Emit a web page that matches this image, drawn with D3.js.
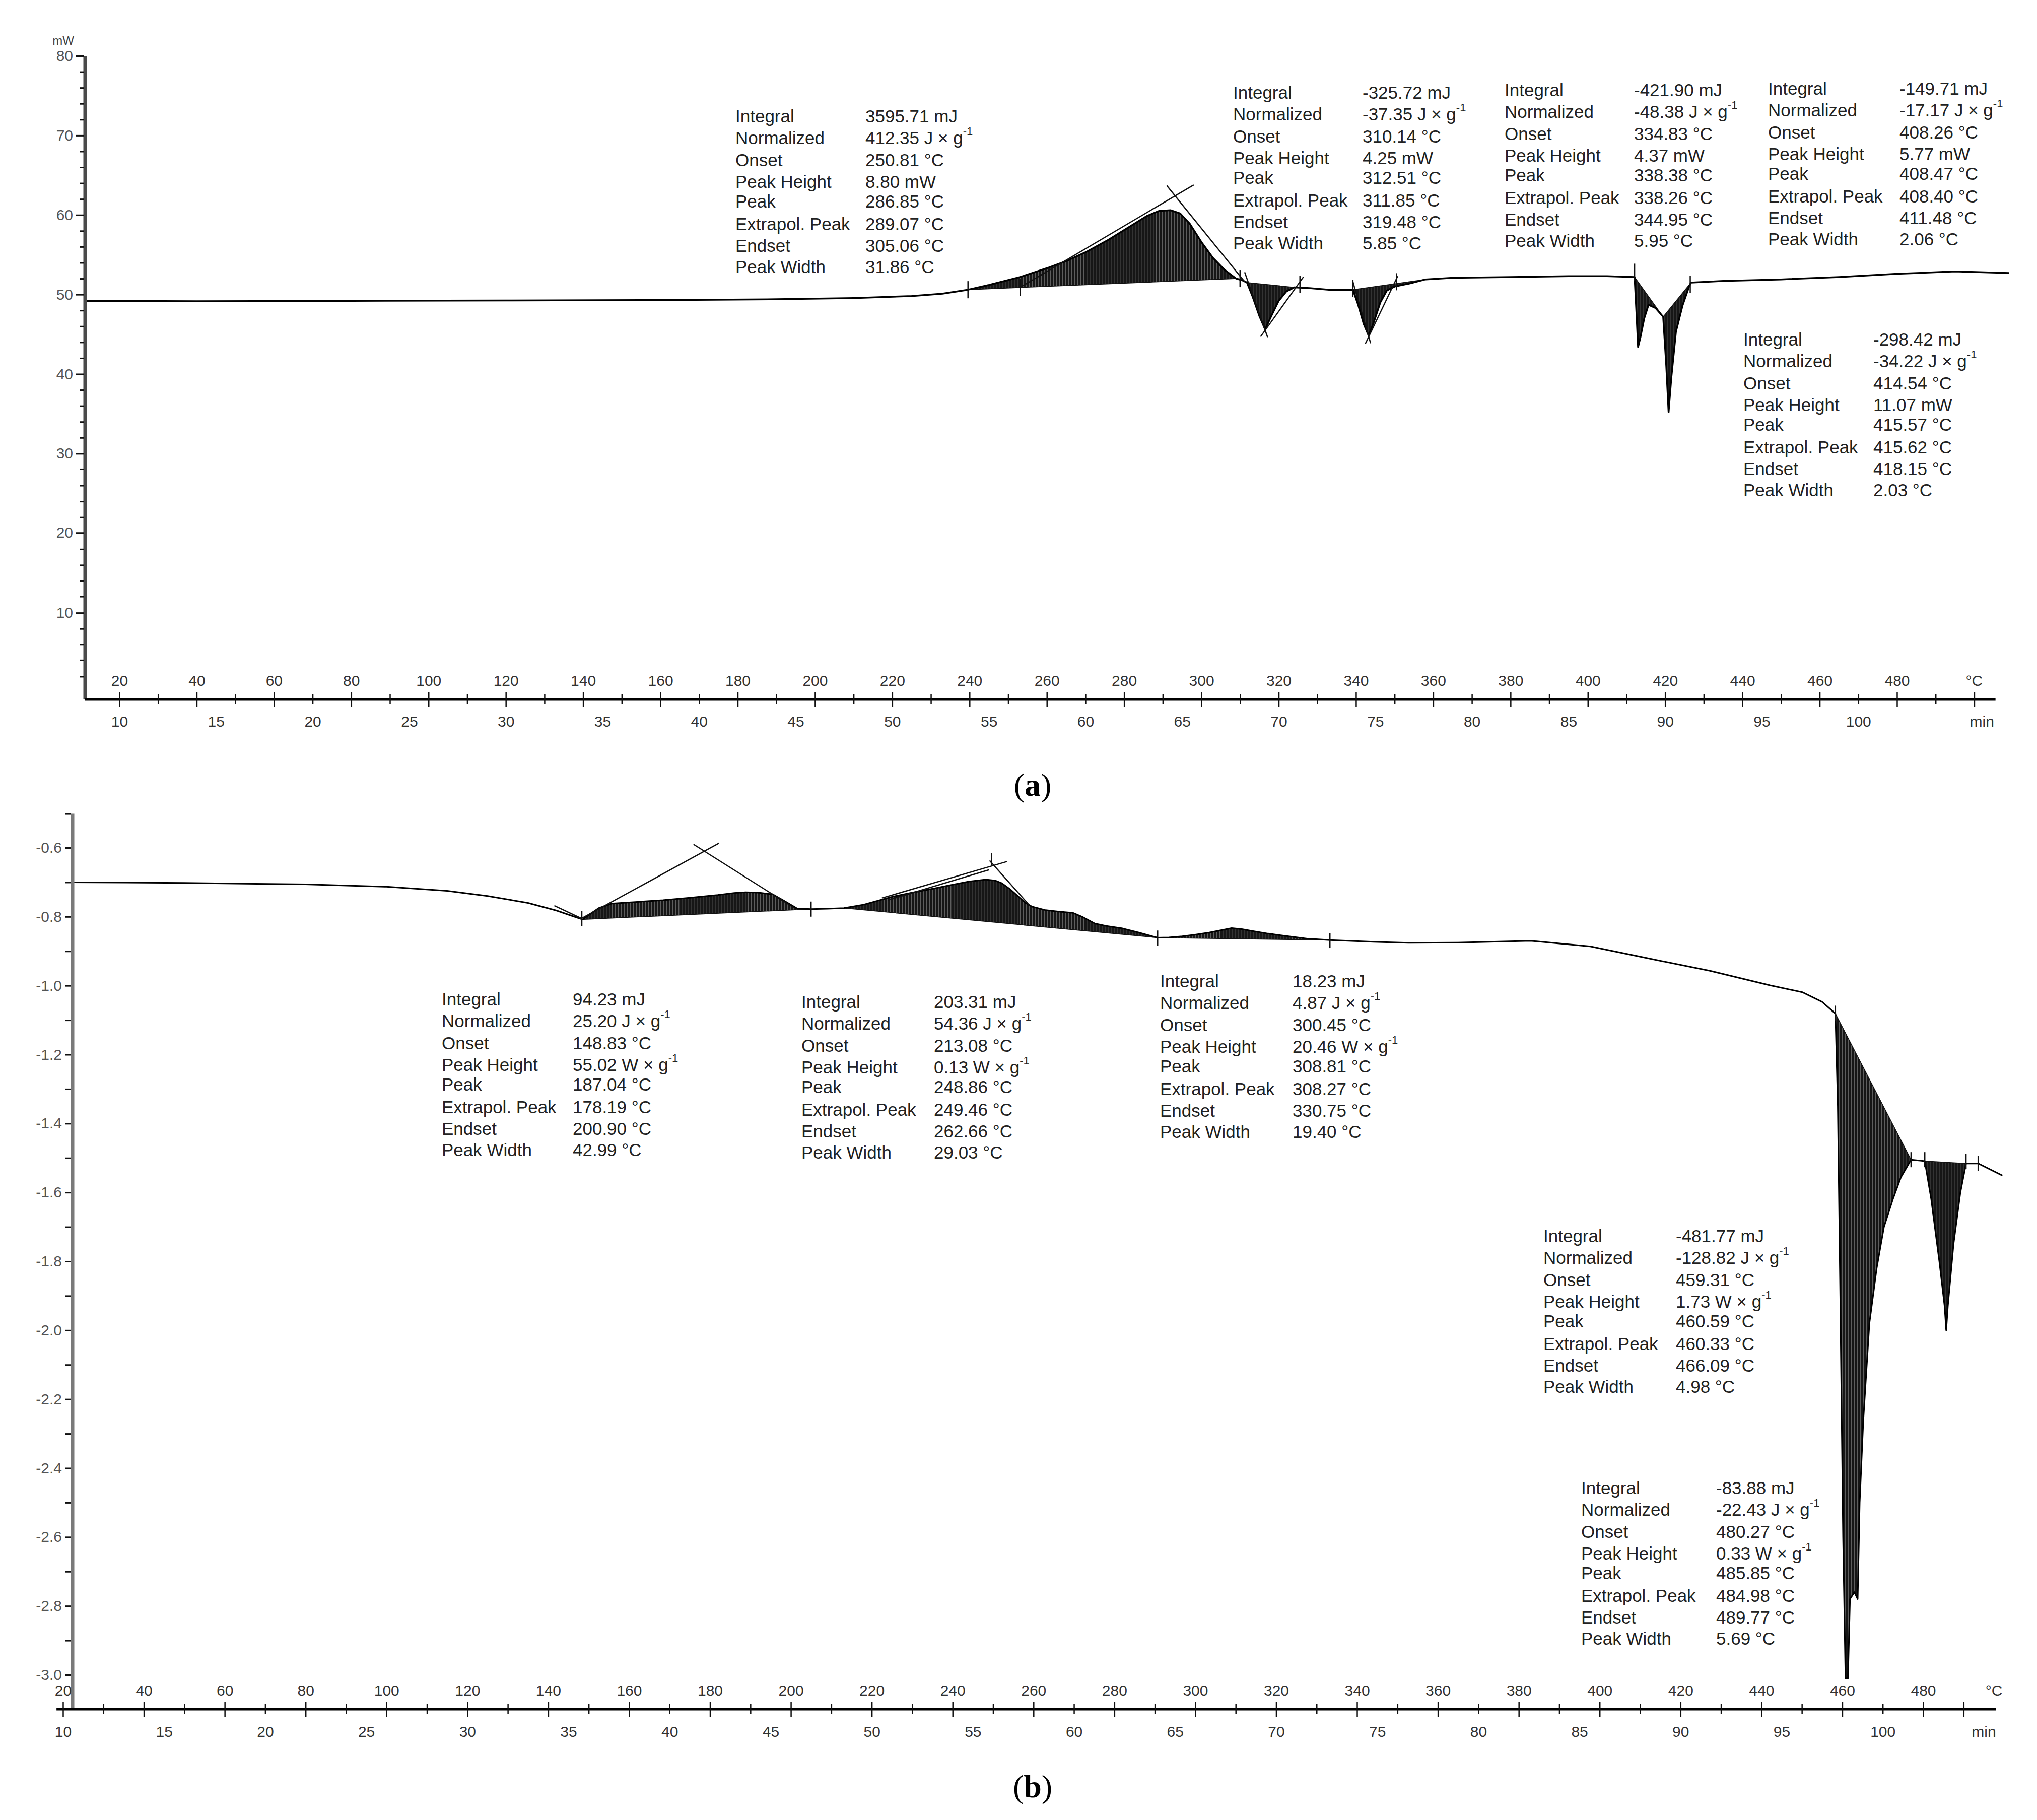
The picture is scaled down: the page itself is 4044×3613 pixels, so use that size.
<!DOCTYPE html>
<html lang="en">
<head>
<meta charset="UTF-8">
<title>DSC curves (a) and (b)</title>
<script src="https://cdn.jsdelivr.net/npm/d3@7"></script>
<style>
  html, body { margin: 0; background: #fff; }
  svg { display: block; }
</style>
</head>
<body>
<div id="chart"></div>
<script>
// ---- data: panel (a), heat flow in mW against temperature in °C ----
const curveA = [
  [11, 49.2], [40, 49.15], [80, 49.2], [120, 49.25], [160, 49.3], [190, 49.4], [210, 49.55], [225, 49.8], [233, 50.1], [239.6, 50.6],
  [245, 51.2], [253.1, 52.2], [260, 53.3], [265, 54.2], [270, 55.3], [276, 56.9], [282, 58.7], [286, 59.9], [289, 60.5], [292, 60.6],
  [294.5, 60.2], [297, 58.9], [300, 56.6], [303, 54.6], [306, 53.1], [309, 52.0], [310.5, 51.8],
  [311.8, 51.5], [313.2, 49.8], [315, 47.3], [316.5, 45.6], [318, 47.2], [320, 49.2], [322, 50.4], [324.1, 50.9],
  [328, 50.8], [333, 50.6], [339.2, 50.6],
  [340.5, 48.8], [342, 46.3], [343.3, 44.8], [344.6, 46.5], [346.3, 49.0], [348, 50.5], [350, 51.0], [354, 51.4], [358, 51.9],
  [365, 52.1], [380, 52.2], [395, 52.3], [405, 52.3], [412.1, 52.2],
  [412.6, 47.5], [413.0, 43.4], [413.6, 44.6], [414.6, 47.0], [415.7, 48.7], [417.5, 48.3], [419.5, 47.2],
  [420.3, 41.0], [420.9, 35.2], [421.6, 39.5], [422.8, 45.3], [424.5, 48.6], [426.2, 51.0], [426.7, 51.5],
  [435, 51.7], [450, 51.9], [465, 52.2], [480, 52.6], [495, 52.9], [509, 52.7]
];
// integration ranges (start, end temperature) that are shaded
const peaksA = [[239.6, 309], [311.8, 324.1], [339.2, 358], [412.1, 419.5], [419.5, 426.7]];
// tangent lines: [start point, extrapolated peak]
const tangentsA = [
  [[253.1, 50.9], [293.2, 62.4]], [[311.2, 51.6], [293.2, 62.4]],
  [[311.2, 52.8], [316.5, 45.5]], [[326.4, 52.2], [316.5, 45.5]],
  [[339.2, 51.6], [343.3, 44.7]], [[350.8, 52.3], [343.3, 44.7]]
];
const limitsA = [[239.6, 50.6], [253.1, 50.9], [310, 52.0], [325.5, 51.3], [339.2, 50.8], [350.5, 51.6], [412.1, 52.8], [426.5, 51.3]];

// ---- data: panel (b), normalised heat flow against temperature in °C ----
const curveB = [
  [22.4, -0.700], [50, -0.702], [80, -0.706], [100, -0.713], [115, -0.725], [125, -0.740], [135, -0.760], [142, -0.782], [146, -0.798], [148.5, -0.808],
  [150, -0.795], [152.5, -0.775], [155.7, -0.762], [162, -0.757], [168.4, -0.752], [175, -0.745], [181.9, -0.737], [186, -0.731], [188.8, -0.729],
  [192, -0.730], [195.5, -0.735], [198.5, -0.755], [201.5, -0.776], [205, -0.778], [209, -0.777], [213.1, -0.775],
  [218, -0.765], [225.1, -0.742], [230, -0.730], [235.9, -0.717], [240, -0.707], [244, -0.698], [248.2, -0.692], [250.5, -0.695], [252.2, -0.703],
  [254.2, -0.720], [256.3, -0.742], [258, -0.760], [259.7, -0.771], [263, -0.781], [266, -0.785], [269.8, -0.789], [272, -0.800], [275.2, -0.820],
  [278, -0.827], [282, -0.834], [286, -0.846], [290.7, -0.861],
  [293.5, -0.860], [296.8, -0.857], [300, -0.852], [303.5, -0.846], [306.5, -0.839], [309, -0.833], [311.5, -0.836], [314.3, -0.842], [318, -0.849],
  [321.1, -0.854], [324.5, -0.859], [327.9, -0.864], [333.3, -0.868],
  [344.1, -0.873], [353.3, -0.876], [365, -0.875], [382.9, -0.870], [397.7, -0.886], [412.5, -0.922], [427.3, -0.957], [442.1, -0.999],
  [450.1, -1.019], [455, -1.047], [458.3, -1.081],
  [458.9, -1.35], [459.5, -1.9], [460.2, -2.6], [460.8, -3.01], [461.4, -3.01], [461.9, -2.78], [463.0, -2.76], [463.8, -2.78], [464.3, -2.5],
  [465.2, -2.26], [466.7, -1.98], [468.5, -1.82], [470.3, -1.70], [472.5, -1.62], [474.5, -1.556], [477.0, -1.505],
  [480.4, -1.509], [482, -1.62], [484, -1.80], [485.3, -1.93], [485.7, -2.00], [486.1, -1.93], [487.5, -1.75], [489.2, -1.60], [490.6, -1.516],
  [493.6, -1.516], [499.6, -1.551]
];
const peaksB = [[148.5, 205], [213.1, 290.7], [290.7, 333.3], [458.3, 477.0], [480.4, 490.6]];
const tangentsB = [
  [[148.2, -0.805], [178.6, -0.610]], [[200.9, -0.775], [178.6, -0.610]],
  [[222.5, -0.746], [250.2, -0.651]], [[259.0, -0.767], [250.2, -0.651]]
];
const extraLinesB = [[[141.5, -0.768], [148.2, -0.805]], [[224.0, -0.752], [249.0, -0.664]], [[249.6, -0.651], [249.6, -0.615]]];
const limitsB = [[148.3, -0.805], [205, -0.778], [290.7, -0.862], [333.3, -0.869], [458.3, -1.08], [477, -1.505], [480.4, -1.505], [490.6, -1.51], [493.6, -1.516]];

// ---- tick labels ----
const tempLabels = d3.range(20, 481, 20);
const tempMinor = d3.range(30, 500, 20);
const timeLabels = d3.range(10, 101, 5);
const yLabelsA = [10, 20, 30, 40, 50, 60, 70, 80];
const yMinorA = d3.range(2, 80, 2).filter(d => d % 10 !== 0);
const yLabelsB = [-0.6, -0.8, -1.0, -1.2, -1.4, -1.6, -1.8, -2.0, -2.2, -2.4, -2.6, -2.8, -3.0];
const yMinorB = [-0.5, -0.7, -0.9, -1.1, -1.3, -1.5, -1.7, -1.9, -2.1, -2.3, -2.5, -2.7, -2.9];

// ---- evaluation tables ----
const statNames = ["Integral", "Normalized", "Onset", "Peak Height", "Peak", "Extrapol. Peak", "Endset", "Peak Width"];
const statsA1 = ["3595.71 mJ", "412.35 J × g^-1", "250.81 °C", "8.80 mW", "286.85 °C", "289.07 °C", "305.06 °C", "31.86 °C"];
const statsA2 = ["-325.72 mJ", "-37.35 J × g^-1", "310.14 °C", "4.25 mW", "312.51 °C", "311.85 °C", "319.48 °C", "5.85 °C"];
const statsA3 = ["-421.90 mJ", "-48.38 J × g^-1", "334.83 °C", "4.37 mW", "338.38 °C", "338.26 °C", "344.95 °C", "5.95 °C"];
const statsA4 = ["-149.71 mJ", "-17.17 J × g^-1", "408.26 °C", "5.77 mW", "408.47 °C", "408.40 °C", "411.48 °C", "2.06 °C"];
const statsA5 = ["-298.42 mJ", "-34.22 J × g^-1", "414.54 °C", "11.07 mW", "415.57 °C", "415.62 °C", "418.15 °C", "2.03 °C"];
const statsB1 = ["94.23 mJ", "25.20 J × g^-1", "148.83 °C", "55.02 W × g^-1", "187.04 °C", "178.19 °C", "200.90 °C", "42.99 °C"];
const statsB2 = ["203.31 mJ", "54.36 J × g^-1", "213.08 °C", "0.13 W × g^-1", "248.86 °C", "249.46 °C", "262.66 °C", "29.03 °C"];
const statsB3 = ["18.23 mJ", "4.87 J × g^-1", "300.45 °C", "20.46 W × g^-1", "308.81 °C", "308.27 °C", "330.75 °C", "19.40 °C"];
const statsB4 = ["-481.77 mJ", "-128.82 J × g^-1", "459.31 °C", "1.73 W × g^-1", "460.59 °C", "460.33 °C", "466.09 °C", "4.98 °C"];
const statsB5 = ["-83.88 mJ", "-22.43 J × g^-1", "480.27 °C", "0.33 W × g^-1", "485.85 °C", "484.98 °C", "489.77 °C", "5.69 °C"];

// ---- layout ----
const W = 4044, H = 3613;
const FONT = "'Liberation Sans', Arial, Helvetica, sans-serif";
const rowOffsets = [0, 43, 87, 130, 169, 214, 257, 299];

const svg = d3.select("#chart").append("svg")
  .attr("width", W).attr("height", H)
  .attr("viewBox", `0 0 ${W} ${H}`)
  .style("background", "#fff");

const defs = svg.append("defs");
const hatch = defs.append("pattern").attr("id", "hatch")
  .attr("patternUnits", "userSpaceOnUse").attr("width", 6).attr("height", 10);
hatch.append("rect").attr("width", 6).attr("height", 10).attr("fill", "#161616");
hatch.append("rect").attr("x", 3).attr("width", 1.4).attr("height", 10).attr("fill", "#5e5e5e");

const panelA = {
  x: d3.scaleLinear().domain([20, 480]).range([237, 3766]),
  y: d3.scaleLinear().domain([0, 80]).range([1374, 111]),
  xAxisY: 1388, yAxisX: 169, yTop: 80, xStart: 11, xEnd: 505.5,
  yLabels: yLabelsA, yMinor: yMinorA, yFormat: d => d.toFixed(0), yMajorLen: 15, yMinorLen: 8,
  yAxisColor: "#4a4a4a", degreeAt: 500, minAt: 106.4, tickTop: 500,
  curve: curveA, peaks: peaksA, tangents: tangentsA, extra: [], limits: limitsA, limitLen: 17,
  strokeWidth: 3.5, unit: "mW",
  boxes: [
    { stats: statsA1, lx: 1460, vx: 1718, y0: 230 },
    { stats: statsA2, lx: 2448, vx: 2705, y0: 183 },
    { stats: statsA3, lx: 2987, vx: 3244, y0: 178 },
    { stats: statsA4, lx: 3510, vx: 3771, y0: 175 },
    { stats: statsA5, lx: 3461, vx: 3719, y0: 673 }
  ],
  tag: "a", tagY: 1558
};

const panelB = {
  x: d3.scaleLinear().domain([20, 480]).range([125, 3818]),
  y: d3.scaleLinear().domain([-0.6, -3.0]).range([1683, 3325]),
  xAxisY: 3393, yAxisX: 144, yTop: -0.5, xStart: 18.4, xEnd: 498,
  yLabels: yLabelsB, yMinor: yMinorB, yFormat: d => d.toFixed(1), yMajorLen: 12, yMinorLen: 12,
  yAxisColor: "#7a7a7a", degreeAt: 497.5, minAt: 105, tickTop: 490,
  curve: curveB, peaks: peaksB, tangents: tangentsB, extra: extraLinesB, limits: limitsB, limitLen: 15,
  strokeWidth: 3, unit: null,
  boxes: [
    { stats: statsB1, lx: 877, vx: 1137, y0: 1983 },
    { stats: statsB2, lx: 1591, vx: 1854, y0: 1988 },
    { stats: statsB3, lx: 2303, vx: 2566, y0: 1947 },
    { stats: statsB4, lx: 3064, vx: 3327, y0: 2453 },
    { stats: statsB5, lx: 3139, vx: 3407, y0: 2953 }
  ],
  tag: "b", tagY: 3546
};

function styleAxis(a, size, color) {
  a.attr("font-family", FONT).attr("font-size", size);
  a.selectAll("text").attr("fill", color);
  a.selectAll("line").attr("stroke", "#111").attr("stroke-width", 3);
}

function drawPanel(p) {
  const g = svg.append("g");
  const x = p.x, y = p.y;
  const t = d3.scaleLinear().domain([10, 100]).range([x(20), x(470)]);   // 5 K/min heating

  // shaded integration areas
  const line = d3.line().x(d => x(d[0])).y(d => y(d[1]));
  p.peaks.forEach(([t1, t2]) => {
    const seg = p.curve.filter(d => d[0] >= t1 && d[0] <= t2);
    g.append("path").attr("d", line(seg) + "Z")
      .attr("fill", "url(#hatch)").attr("stroke", "#111").attr("stroke-width", 1.5);
  });

  // measured curve
  g.append("path").datum(p.curve).attr("d", line)
    .attr("fill", "none").attr("stroke", "#000").attr("stroke-width", p.strokeWidth)
    .attr("stroke-linejoin", "round");

  // tangents meeting at the extrapolated peak, drawn a little past it to form an X
  p.tangents.forEach(([s, e]) => {
    const x1 = x(s[0]), y1 = y(s[1]), x2 = x(e[0]), y2 = y(e[1]);
    g.append("line")
      .attr("x1", x1).attr("y1", y1)
      .attr("x2", x2 + (x2 - x1) * 0.12).attr("y2", y2 + (y2 - y1) * 0.12)
      .attr("stroke", "#111").attr("stroke-width", 2.5);
  });
  p.extra.forEach(([s, e]) => {
    g.append("line").attr("x1", x(s[0])).attr("y1", y(s[1])).attr("x2", x(e[0])).attr("y2", y(e[1]))
      .attr("stroke", "#111").attr("stroke-width", 2.5);
  });
  // limit marks
  g.selectAll(".lim").data(p.limits).join("line")
    .attr("x1", d => x(d[0])).attr("x2", d => x(d[0]))
    .attr("y1", d => y(d[1]) - p.limitLen).attr("y2", d => y(d[1]) + p.limitLen)
    .attr("stroke", "#111").attr("stroke-width", 2.5);

  // y axis
  g.append("line")
    .attr("x1", p.yAxisX).attr("x2", p.yAxisX)
    .attr("y1", y(p.yTop)).attr("y2", p.xAxisY)
    .attr("stroke", p.yAxisColor).attr("stroke-width", 7);
  g.append("g").attr("transform", `translate(${p.yAxisX - 3},0)`)
    .call(d3.axisLeft(y).tickValues(p.yLabels).tickSize(p.yMajorLen).tickPadding(6).tickFormat(p.yFormat))
    .call(a => a.select(".domain").remove())
    .call(a => styleAxis(a, 30, "#555"));
  g.append("g").attr("transform", `translate(${p.yAxisX - 3},0)`)
    .call(d3.axisLeft(y).tickValues(p.yMinor).tickSize(p.yMinorLen).tickFormat(""))
    .call(a => a.select(".domain").remove())
    .call(a => styleAxis(a, 30, "#555"));
  if (p.unit) {
    g.append("text").attr("x", p.yAxisX - 22).attr("y", y(p.yTop) - 22)
      .attr("text-anchor", "end").attr("font-family", FONT).attr("font-size", 24).attr("fill", "#444")
      .text(p.unit);
  }

  // x axis: temperature above, time below
  g.append("line")
    .attr("x1", x(p.xStart)).attr("x2", x(p.xEnd))
    .attr("y1", p.xAxisY).attr("y2", p.xAxisY)
    .attr("stroke", "#000").attr("stroke-width", 5);
  const majors = tempLabels.concat(p.tickTop > 480 ? [p.tickTop] : []);
  g.append("g").attr("transform", `translate(0,${p.xAxisY})`)
    .call(d3.axisTop(x).tickValues(majors).tickSize(15).tickPadding(12).tickFormat(d => d > 480 ? "" : d))
    .call(a => a.select(".domain").remove())
    .call(a => styleAxis(a, 30, "#333"))
    .call(a => a.selectAll("line").attr("y1", 15).attr("stroke-width", 2.5));
  g.append("g").attr("transform", `translate(0,${p.xAxisY})`)
    .call(d3.axisTop(x).tickValues(tempMinor.filter(d => d <= p.tickTop)).tickSize(10).tickFormat(""))
    .call(a => a.select(".domain").remove())
    .call(a => styleAxis(a, 30, "#333"))
    .call(a => a.selectAll("line").attr("y1", 10).attr("stroke-width", 2.5));
  g.append("g").attr("transform", `translate(0,${p.xAxisY})`)
    .call(d3.axisBottom(t).tickValues(timeLabels).tickSize(0).tickPadding(34))
    .call(a => a.select(".domain").remove())
    .call(a => styleAxis(a, 30, "#333"));
  g.append("text").attr("x", x(p.degreeAt)).attr("y", p.xAxisY - 27)
    .attr("text-anchor", "middle").attr("font-family", FONT).attr("font-size", 30).attr("fill", "#333")
    .text("°C");
  g.append("text").attr("x", t(p.minAt)).attr("y", p.xAxisY + 55)
    .attr("text-anchor", "middle").attr("font-family", FONT).attr("font-size", 30).attr("fill", "#333")
    .text("min");

  // evaluation tables
  p.boxes.forEach(b => {
    const box = g.append("g").attr("font-family", FONT).attr("font-size", 35).attr("fill", "#222");
    statNames.forEach((name, i) => {
      const yy = b.y0 + rowOffsets[i];
      box.append("text").attr("x", b.lx).attr("y", yy).attr("dominant-baseline", "central").text(name);
      const [main, sup] = b.stats[i].split("^");
      const vt = box.append("text").attr("x", b.vx).attr("y", yy).attr("dominant-baseline", "central");
      vt.append("tspan").text(main);
      if (sup) vt.append("tspan").attr("dy", -13).attr("font-size", 22).text(sup);
    });
  });

  // panel tag
  const tag = g.append("text").attr("x", 2050).attr("y", p.tagY)
    .attr("text-anchor", "middle").attr("dominant-baseline", "central")
    .attr("font-family", "'Liberation Serif', 'Times New Roman', serif").attr("font-size", 64).attr("fill", "#000");
  tag.append("tspan").text("(");
  tag.append("tspan").attr("font-weight", "bold").text(p.tag);
  tag.append("tspan").text(")");
}

drawPanel(panelA);
drawPanel(panelB);
</script>
</body>
</html>
